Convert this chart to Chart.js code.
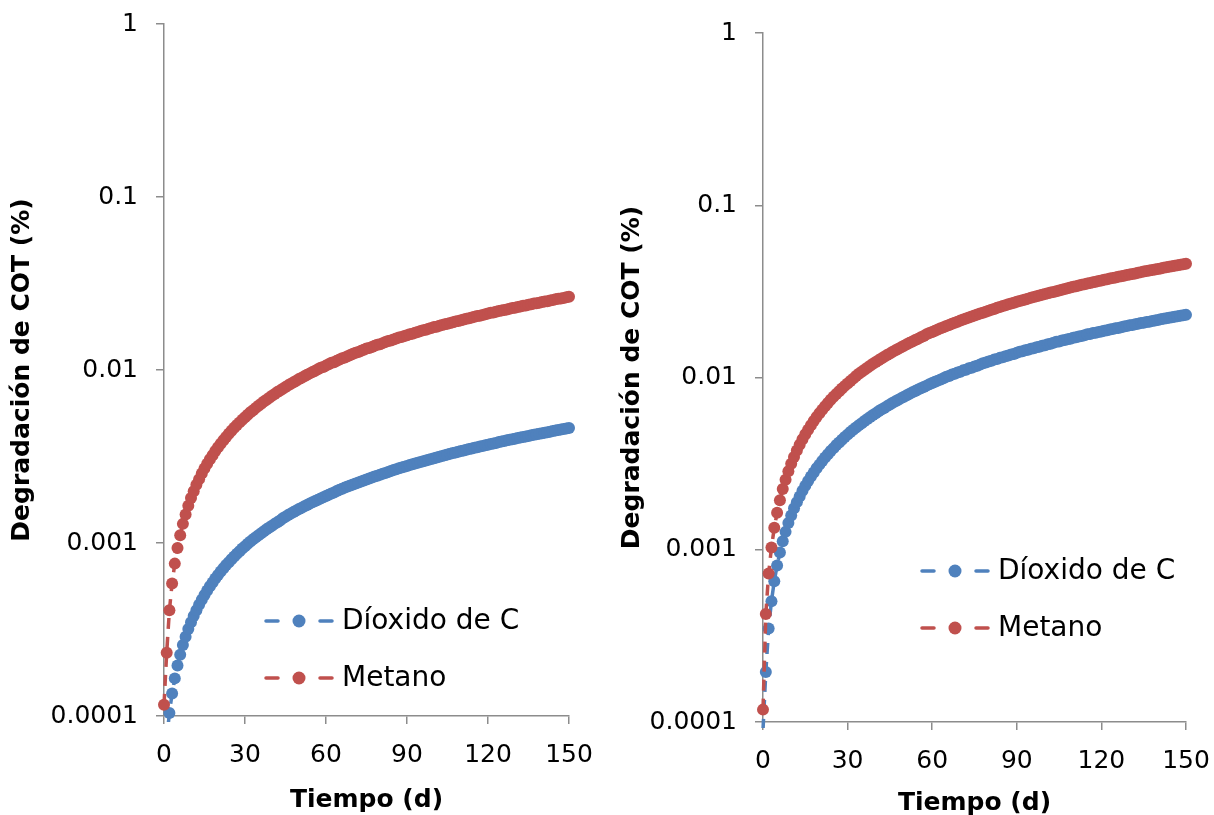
<!DOCTYPE html>
<html>
<head>
<meta charset="utf-8">
<script src="https://cdn.jsdelivr.net/npm/chart.js@4.4.1/dist/chart.umd.min.js"></script>
<style>
  html, body { margin: 0; padding: 0; background: #fff; overflow: hidden; width: 1214px; height: 815px; }
  canvas { position: absolute; top: 0; }
  #left { left: 0; }
  #right { left: 605px; }
</style>
</head>
<body>
<canvas id="left" width="605" height="815"></canvas>
<canvas id="right" width="609" height="820"></canvas>
<script>
// --- data ---
const days = [0,1,2,3,4,5,6,7,8,9,10,11,12,13,14,15,16,17,18,19,20,21,22,23,24,25,26,27,28,29,30,
  31,32,33,34,35,36,37,38,39,40,41,42,43,44,45,46,47,48,49,50,51,52,53,54,55,56,57,58,59,60,
  61,62,63,64,65,66,67,68,69,70,71,72,73,74,75,76,77,78,79,80,81,82,83,84,85,86,87,88,89,90,
  91,92,93,94,95,96,97,98,99,100,101,102,103,104,105,106,107,108,109,110,111,112,113,114,115,116,117,118,119,120,
  121,122,123,124,125,126,127,128,129,130,131,132,133,134,135,136,137,138,139,140,141,142,143,144,145,146,147,148,149,150];

const seriesNames = ['Díoxido de C', 'Metano'];
const yTicks = [1, 0.1, 0.01, 0.001, 0.0001];
const yTickLabels = ['1', '0.1', '0.01', '0.001', '0.0001'];
const xTicks = [0, 30, 60, 90, 120, 150];

// left panel
const co2Left = [0.000043,0.0000735,0.000104,0.000135,0.000165,0.000196,0.000226,0.000257,0.000287,0.000318,
  0.000348,0.000379,0.000409,0.00044,0.00047,0.000501,0.000531,0.000562,0.000592,0.000623,
  0.000653,0.000684,0.000714,0.000745,0.000775,0.000806,0.000836,0.000867,0.000897,0.000928,
  0.000958,0.000989,0.00102,0.00105,0.00108,0.00111,0.00114,0.00117,0.0012,0.00123,
  0.00126,0.00129,0.00132,0.00135,0.00139,0.00142,0.00145,0.00148,0.00151,0.00154,
  0.00157,0.0016,0.00163,0.00166,0.00169,0.00172,0.00175,0.00178,0.00181,0.00184,
  0.00187,0.0019,0.00193,0.00196,0.002,0.00203,0.00206,0.00209,0.00212,0.00215,
  0.00218,0.00221,0.00224,0.00227,0.0023,0.00233,0.00236,0.00239,0.00242,0.00245,
  0.00248,0.00251,0.00254,0.00257,0.00261,0.00264,0.00267,0.0027,0.00273,0.00276,
  0.00279,0.00282,0.00285,0.00288,0.00291,0.00294,0.00297,0.003,0.00303,0.00306,
  0.00309,0.00312,0.00315,0.00318,0.00322,0.00325,0.00328,0.00331,0.00334,0.00337,
  0.0034,0.00343,0.00346,0.00349,0.00352,0.00355,0.00358,0.00361,0.00364,0.00367,
  0.0037,0.00373,0.00376,0.00379,0.00383,0.00386,0.00389,0.00392,0.00395,0.00398,
  0.00401,0.00404,0.00407,0.0041,0.00413,0.00416,0.00419,0.00422,0.00425,0.00428,
  0.00431,0.00434,0.00437,0.0044,0.00444,0.00447,0.0045,0.00453,0.00456,0.00459,
  0.00462];
const ch4Left = [0.000116,0.000232,0.000408,0.000584,0.00076,0.000936,0.00111,0.00129,0.00146,0.00164,
  0.00182,0.00199,0.00217,0.00234,0.00252,0.0027,0.00287,0.00305,0.00322,0.0034,
  0.00358,0.00375,0.00393,0.0041,0.00428,0.00446,0.00463,0.00481,0.00498,0.00516,
  0.00534,0.00551,0.00569,0.00586,0.00604,0.00622,0.00639,0.00657,0.00674,0.00692,
  0.0071,0.00727,0.00745,0.00762,0.0078,0.00798,0.00815,0.00833,0.0085,0.00868,
  0.00886,0.00903,0.00921,0.00938,0.00956,0.00974,0.00991,0.0101,0.0103,0.0104,
  0.0106,0.0108,0.011,0.0111,0.0113,0.0115,0.0117,0.0118,0.012,0.0122,
  0.0124,0.0126,0.0127,0.0129,0.0131,0.0133,0.0134,0.0136,0.0138,0.014,
  0.0141,0.0143,0.0145,0.0147,0.0148,0.015,0.0152,0.0154,0.0155,0.0157,
  0.0159,0.0161,0.0162,0.0164,0.0166,0.0168,0.017,0.0171,0.0173,0.0175,
  0.0177,0.0178,0.018,0.0182,0.0184,0.0185,0.0187,0.0189,0.0191,0.0192,
  0.0194,0.0196,0.0198,0.0199,0.0201,0.0203,0.0205,0.0206,0.0208,0.021,
  0.0212,0.0214,0.0215,0.0217,0.0219,0.0221,0.0222,0.0224,0.0226,0.0228,
  0.0229,0.0231,0.0233,0.0235,0.0236,0.0238,0.024,0.0242,0.0243,0.0245,
  0.0247,0.0249,0.025,0.0252,0.0254,0.0256,0.0258,0.0259,0.0261,0.0263,
  0.0265];

// right panel
const co2Right = [0.00009,0.000195,0.000349,0.000503,0.000657,0.000811,0.000965,0.00112,0.00127,0.00143,
  0.00158,0.00174,0.00189,0.00204,0.0022,0.00235,0.00251,0.00266,0.00281,0.00297,
  0.00312,0.00328,0.00343,0.00358,0.00374,0.00389,0.00405,0.0042,0.00435,0.00451,
  0.00466,0.00482,0.00497,0.00512,0.00528,0.00543,0.00559,0.00574,0.00589,0.00605,
  0.0062,0.00636,0.00651,0.00666,0.00682,0.00697,0.00713,0.00728,0.00743,0.00759,
  0.00774,0.0079,0.00805,0.0082,0.00836,0.00851,0.00867,0.00882,0.00897,0.00913,
  0.00928,0.00944,0.00959,0.00974,0.0099,0.0101,0.0102,0.0104,0.0105,0.0107,
  0.0108,0.011,0.0111,0.0113,0.0114,0.0116,0.0117,0.0119,0.0121,0.0122,
  0.0124,0.0125,0.0127,0.0128,0.013,0.0131,0.0133,0.0134,0.0136,0.0137,
  0.0139,0.0141,0.0142,0.0144,0.0145,0.0147,0.0148,0.015,0.0151,0.0153,
  0.0154,0.0156,0.0157,0.0159,0.0161,0.0162,0.0164,0.0165,0.0167,0.0168,
  0.017,0.0171,0.0173,0.0174,0.0176,0.0178,0.0179,0.0181,0.0182,0.0184,
  0.0185,0.0187,0.0188,0.019,0.0191,0.0193,0.0194,0.0196,0.0198,0.0199,
  0.0201,0.0202,0.0204,0.0205,0.0207,0.0208,0.021,0.0211,0.0213,0.0214,
  0.0216,0.0218,0.0219,0.0221,0.0222,0.0224,0.0225,0.0227,0.0228,0.023,
  0.0231];
const ch4Right = [0.000118,0.000423,0.000727,0.00103,0.00134,0.00164,0.00194,0.00225,0.00255,0.00286,
  0.00316,0.00346,0.00377,0.00407,0.00438,0.00468,0.00498,0.00529,0.00559,0.0059,
  0.0062,0.0065,0.00681,0.00711,0.00742,0.00772,0.00802,0.00833,0.00863,0.00894,
  0.00924,0.00954,0.00985,0.0102,0.0105,0.0108,0.0111,0.0114,0.0117,0.012,
  0.0123,0.0126,0.0129,0.0132,0.0135,0.0138,0.0141,0.0144,0.0147,0.015,
  0.0153,0.0156,0.0159,0.0162,0.0165,0.0168,0.0171,0.0174,0.0178,0.0181,
  0.0184,0.0187,0.019,0.0193,0.0196,0.0199,0.0202,0.0205,0.0208,0.0211,
  0.0214,0.0217,0.022,0.0223,0.0226,0.0229,0.0232,0.0235,0.0238,0.0241,
  0.0244,0.0247,0.025,0.0254,0.0257,0.026,0.0263,0.0266,0.0269,0.0272,
  0.0275,0.0278,0.0281,0.0284,0.0287,0.029,0.0293,0.0296,0.0299,0.0302,
  0.0305,0.0308,0.0311,0.0314,0.0317,0.032,0.0323,0.0326,0.033,0.0333,
  0.0336,0.0339,0.0342,0.0345,0.0348,0.0351,0.0354,0.0357,0.036,0.0363,
  0.0366,0.0369,0.0372,0.0375,0.0378,0.0381,0.0384,0.0387,0.039,0.0393,
  0.0396,0.0399,0.0402,0.0406,0.0409,0.0412,0.0415,0.0418,0.0421,0.0424,
  0.0427,0.043,0.0433,0.0436,0.0439,0.0442,0.0445,0.0448,0.0451,0.0454,
  0.0457];

// --- styles ---
const BLUE = '#4f81bd';
const RED = '#c0504d';
const AXIS = '#8c8c8c';
const FONT = '"DejaVu Sans", "Open Sans", sans-serif';

// legend drawn inside the plot, Excel style (dash - marker - dash, then text)
const inlineLegend = {
  id: 'inlineLegend',
  afterDatasetsDraw(chart, args, o) {
    const ctx = chart.ctx;
    ctx.save();
    chart.data.datasets.forEach((ds, i) => {
      const x = o.x, y = o.y[i];
      ctx.strokeStyle = ds.borderColor;
      ctx.lineWidth = 3.5;
      ctx.lineCap = 'round';
      ctx.beginPath();
      ctx.moveTo(x + 2, y); ctx.lineTo(x + 14, y);
      ctx.moveTo(x + 56, y); ctx.lineTo(x + 68, y);
      ctx.stroke();
      ctx.fillStyle = ds.pointBackgroundColor;
      ctx.beginPath();
      ctx.arc(x + 35, y, 6.5, 0, Math.PI * 2);
      ctx.fill();
      ctx.fillStyle = '#000';
      ctx.font = '28px ' + FONT;
      ctx.textBaseline = 'middle';
      ctx.fillText(ds.label, x + 78, y + 1);
    });
    ctx.restore();
  }
};

function makeChart(id, co2, ch4, lay) {
  const mk = (label, data, color, order) => ({
    label: label,
    data: data,
    borderColor: color,
    backgroundColor: color,
    pointBackgroundColor: color,
    pointBorderWidth: 0,
    pointRadius: 6,
    borderWidth: 3.5,
    borderDash: [11, 8],
    tension: 0,
    order: order,
    clip: { left: 8, right: 8, top: 8, bottom: 6 }
  });

  return new Chart(document.getElementById(id), {
    type: 'line',
    data: {
      labels: days,
      datasets: [
        mk(seriesNames[0], co2, BLUE, 1),
        mk(seriesNames[1], ch4, RED, 0)
      ]
    },
    plugins: [inlineLegend],
    options: {
      responsive: false,
      animation: false,
      events: [],
      layout: { padding: { top: lay.top, right: lay.right, left: 0, bottom: 0 } },
      scales: {
        x: {
          type: 'linear',
          min: 0,
          max: 150,
          afterBuildTicks: s => { s.ticks = xTicks.map(v => ({ value: v })); },
          afterFit: s => { s.height = lay.xAxisH; s.paddingLeft = 0; s.paddingRight = 0; },
          border: { color: AXIS, width: 1.5 },
          grid: { drawOnChartArea: false, color: AXIS, lineWidth: 1.5, tickLength: 8 },
          ticks: { color: '#000', font: { family: FONT, size: 25 }, padding: 16, maxRotation: 0 },
          title: {
            display: true, text: 'Tiempo (d)', color: '#000',
            font: { family: FONT, size: 25, weight: 'bold' },
            padding: { top: 0, bottom: lay.xTitlePad }
          }
        },
        y: {
          type: 'logarithmic',
          min: 0.0001,
          max: 1,
          afterBuildTicks: s => { s.ticks = yTicks.map(v => ({ value: v })); },
          afterFit: s => { s.width = lay.yAxisW; s.paddingTop = 0; s.paddingBottom = 0; },
          border: { color: AXIS, width: 1.5 },
          grid: { drawOnChartArea: false, color: AXIS, lineWidth: 1.5, tickLength: 8 },
          ticks: {
            color: '#000', font: { family: FONT, size: 25 }, padding: 18,
            callback: (v) => yTickLabels[yTicks.indexOf(v)] ?? ''
          },
          title: {
            display: true, text: 'Degradación de COT (%)', color: '#000',
            font: { family: FONT, size: 25, weight: 'bold' },
            padding: { top: lay.yTitlePad, bottom: 0 }
          }
        }
      },
      plugins: {
        legend: { display: false },
        tooltip: { enabled: false },
        inlineLegend: { x: lay.legX, y: lay.legY }
      }
    }
  });
}

makeChart('left', co2Left, ch4Left, {
  top: 24, right: 36, yAxisW: 164, xAxisH: 99, xTitlePad: 0, yTitlePad: 7,
  legX: 264, legY: [621, 678]
});
makeChart('right', co2Right, ch4Right, {
  top: 33, right: 28, yAxisW: 158, xAxisH: 98, xTitlePad: 2, yTitlePad: 12,
  legX: 315, legY: [571, 628]
});
</script>
</body>
</html>
